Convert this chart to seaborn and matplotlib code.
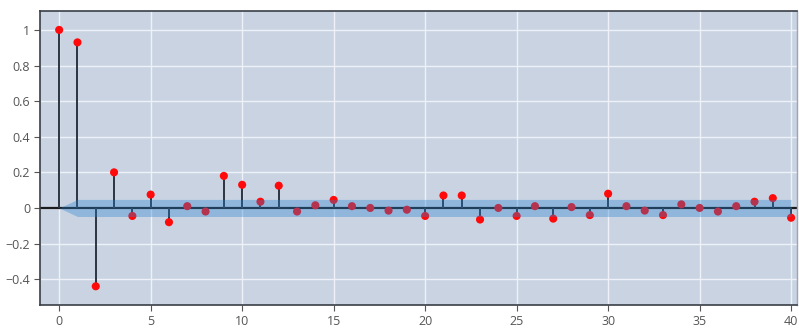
import numpy as np
import pandas as pd
import matplotlib
matplotlib.use("Agg")
import matplotlib.pyplot as plt
import seaborn as sns

# partial autocorrelation values
lags = list(range(41))
pacf_values = [1.0, 0.93, -0.44, 0.20, -0.045, 0.075, -0.08, 0.01, -0.02, 0.18,
               0.13, 0.035, 0.125, -0.02, 0.015, 0.045, 0.01, 0.0, -0.015, -0.01,
               -0.045, 0.07, 0.07, -0.065, 0.0, -0.045, 0.01, -0.06, 0.005, -0.04,
               0.08, 0.01, -0.015, -0.04, 0.02, 0.0, -0.02, 0.01, 0.035, 0.055,
               -0.055]
# confidence band half-width (zero at lag 0)
conf_width = [0.0] + [0.048] * 40

x_ticks = [0, 5, 10, 15, 20, 25, 30, 35, 40]
y_ticks = [-0.4, -0.2, 0, 0.2, 0.4, 0.6, 0.8, 1]
y_tick_labels = ["\u22120.4", "\u22120.2", "0", "0.2", "0.4", "0.6", "0.8", "1"]

df = pd.DataFrame({"lag": lags, "pacf": pacf_values, "conf": conf_width})

sns.set_theme(style="darkgrid", rc={
    "axes.facecolor": "#c9d3e2",
    "grid.color": "#eef2f8",
    "grid.linewidth": 1.0,
})
plt.rcParams["font.family"] = ["Open Sans", "DejaVu Sans"]

fig = plt.figure(figsize=(7.99, 3.29), dpi=100)
ax = fig.add_axes([0.050, 0.073, 0.947, 0.894])

ax.axhline(0, color="#1a1a1a", linewidth=1.6, zorder=2)
ax.vlines(df["lag"], 0, df["pacf"], color="#2b3440", linewidth=1.4, zorder=3)
sns.scatterplot(data=df, x="lag", y="pacf", ax=ax, color="#ff0a0a", s=34,
                edgecolor="none", zorder=4)
ax.fill_between(df["lag"], -df["conf"], df["conf"], color=(40/255, 130/255, 210/255),
                alpha=0.35, linewidth=0, zorder=5)

ax.set_xlim(-1.05, 40.3)
ax.set_ylim(-0.545, 1.107)
ax.set_xticks(x_ticks)
ax.set_yticks(y_ticks)
ax.set_yticklabels(y_tick_labels)
ax.set_xlabel("")
ax.set_ylabel("")
ax.tick_params(axis="both", labelsize=9, colors="#555555", length=4, width=0.8,
               direction="out", left=True, bottom=True, pad=3)
for tl in ax.get_xticklabels() + ax.get_yticklabels():
    tl.set_color("#555555")
for side in ["left", "bottom", "top"]:
    ax.spines[side].set_visible(True)
    ax.spines[side].set_color("#3a3f47")
    ax.spines[side].set_linewidth(1.2)
ax.spines["right"].set_visible(True)
ax.spines["right"].set_color("#9aa6b6")
ax.spines["right"].set_linewidth(1.0)

plt.savefig("out.png", dpi=100)
plt.close()
